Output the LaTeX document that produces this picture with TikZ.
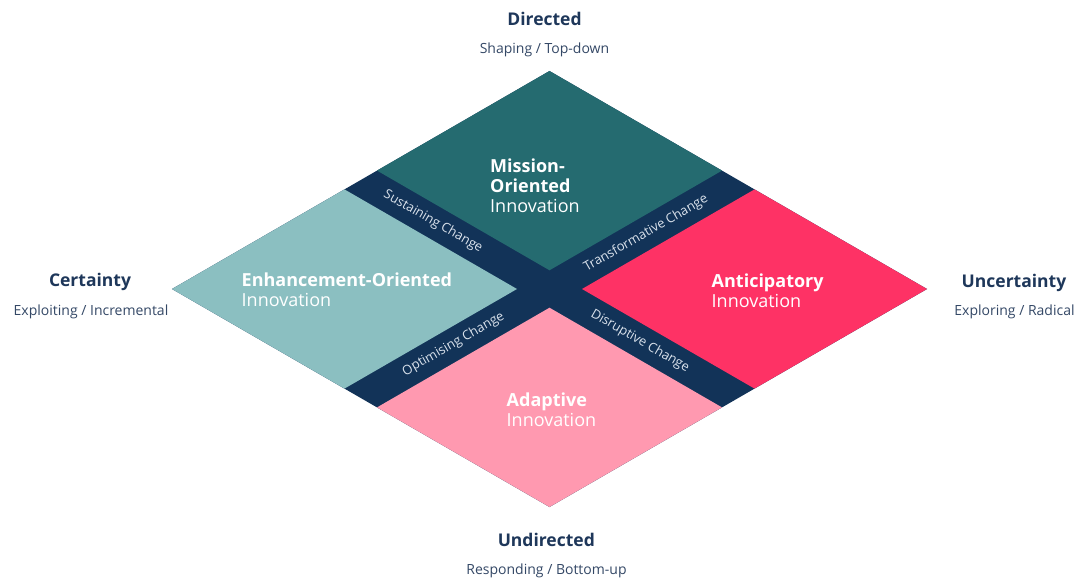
\documentclass[tikz,border=0pt]{standalone}
\usepackage{fontspec}
\setmainfont{Open Sans}
\definecolor{navy}{RGB}{18,51,88}
\definecolor{mission}{RGB}{37,107,112}
\definecolor{enhance}{RGB}{139,191,193}
\definecolor{anticip}{RGB}{254,50,101}
\definecolor{adapt}{RGB}{255,153,176}
\definecolor{titlec}{RGB}{30,55,90}
\definecolor{subc}{RGB}{52,72,102}
\definecolor{bandtext}{RGB}{218,226,236}
\tikzset{
  titletext/.style={font=\fontsize{17.5}{20}\selectfont\bfseries, text=titlec, inner sep=0pt, anchor=base},
  subtext/.style={font=\fontsize{14}{16}\selectfont, text=subc, inner sep=0pt, anchor=base},
  qbold/.style={font=\fontsize{18}{20}\selectfont\bfseries, text=white, inner sep=0pt, anchor=base west},
  qreg/.style={font=\fontsize{18}{20}\selectfont, text=white, inner sep=0pt, anchor=base west},
  bandlabel/.style={font=\fontsize{13}{15}\selectfont, text=bandtext, inner sep=0pt, anchor=center},
}
\begin{document}
\begin{tikzpicture}[x=1pt,y=-1pt]
\useasboundingbox (0,0) rectangle (1079,578);
\fill[white] (0,0) rectangle (1079,578);
% outer diamond
\coordinate (T) at (549.5,71);
\coordinate (R) at (927,289);
\coordinate (B) at (549.5,507);
\coordinate (L) at (172,289);
\fill[navy] (T) -- (R) -- (B) -- (L) -- cycle;
% Mission (top)
\coordinate (m2) at (722,170.6);
\coordinate (m3) at (549.5,270.3);
\coordinate (m4) at (377,170.6);
\fill[mission] (T) -- (m2) -- (m3) -- (m4) -- cycle;
% Enhancement (left)
\coordinate (e1) at (344.5,189.4);
\coordinate (e3) at (344.5,388.6);
\coordinate (e4) at (517,289);
\fill[enhance] (e1) -- (e4) -- (e3) -- (L) -- cycle;
% Anticipatory (right)
\coordinate (a1) at (754.5,189.4);
\coordinate (a3) at (754.5,388.6);
\coordinate (a4) at (582,289);
\fill[anticip] (a1) -- (R) -- (a3) -- (a4) -- cycle;
% Adaptive (bottom)
\coordinate (d1) at (549.5,307.7);
\coordinate (d2) at (722,407.4);
\coordinate (d4) at (377,407.4);
\fill[adapt] (d1) -- (d2) -- (B) -- (d4) -- cycle;
% quadrant texts
\node[qbold] (mi1) at (490,172.7) {Mission-};
\node[qbold] (mi2) at (490,192.7) {Oriented};
\node[qreg]  (mi3) at (490,212.7) {Innovation};
\node[qbold] (en1) at (241.5,286.7) {Enhancement-Oriented};
\node[qreg]  (en2) at (241.5,306.7) {Innovation};
\node[qbold] (an1) at (711.5,287.3) {Anticipatory};
\node[qreg]  (an2) at (711.5,307.3) {Innovation};
\node[qbold] (ad1) at (506.5,406.7) {Adaptive};
\node[qreg]  (ad2) at (506.5,426.7) {Innovation};
% band labels
\node[bandlabel, rotate=-30] (sus) at (433,221.7) {Sustaining Change};
\node[bandlabel, rotate=30]  (tra) at (646,233.5) {Transformative Change};
\node[bandlabel, rotate=30]  (opt) at (453.5,344.3) {Optimising Change};
\node[bandlabel, rotate=-30] (dis) at (640,341.3) {Disruptive Change};
% outer labels
\node[titletext] (dir) at (544.5,26) {Directed};
\node[subtext] (dirs) at (544.5,53.5) {Shaping / Top-down};
\node[titletext] (cer) at (90,286.7) {Certainty};
\node[subtext] (cers) at (91,315) {Exploiting / Incremental};
\node[titletext] (unc) at (1014,287.3) {Uncertainty};
\node[subtext] (uncs) at (1014.5,315) {Exploring / Radical};
\node[titletext] (und) at (546.3,546) {Undirected};
\node[subtext] (unds) at (546.5,574) {Responding / Bottom-up};
\end{tikzpicture}
\end{document}
